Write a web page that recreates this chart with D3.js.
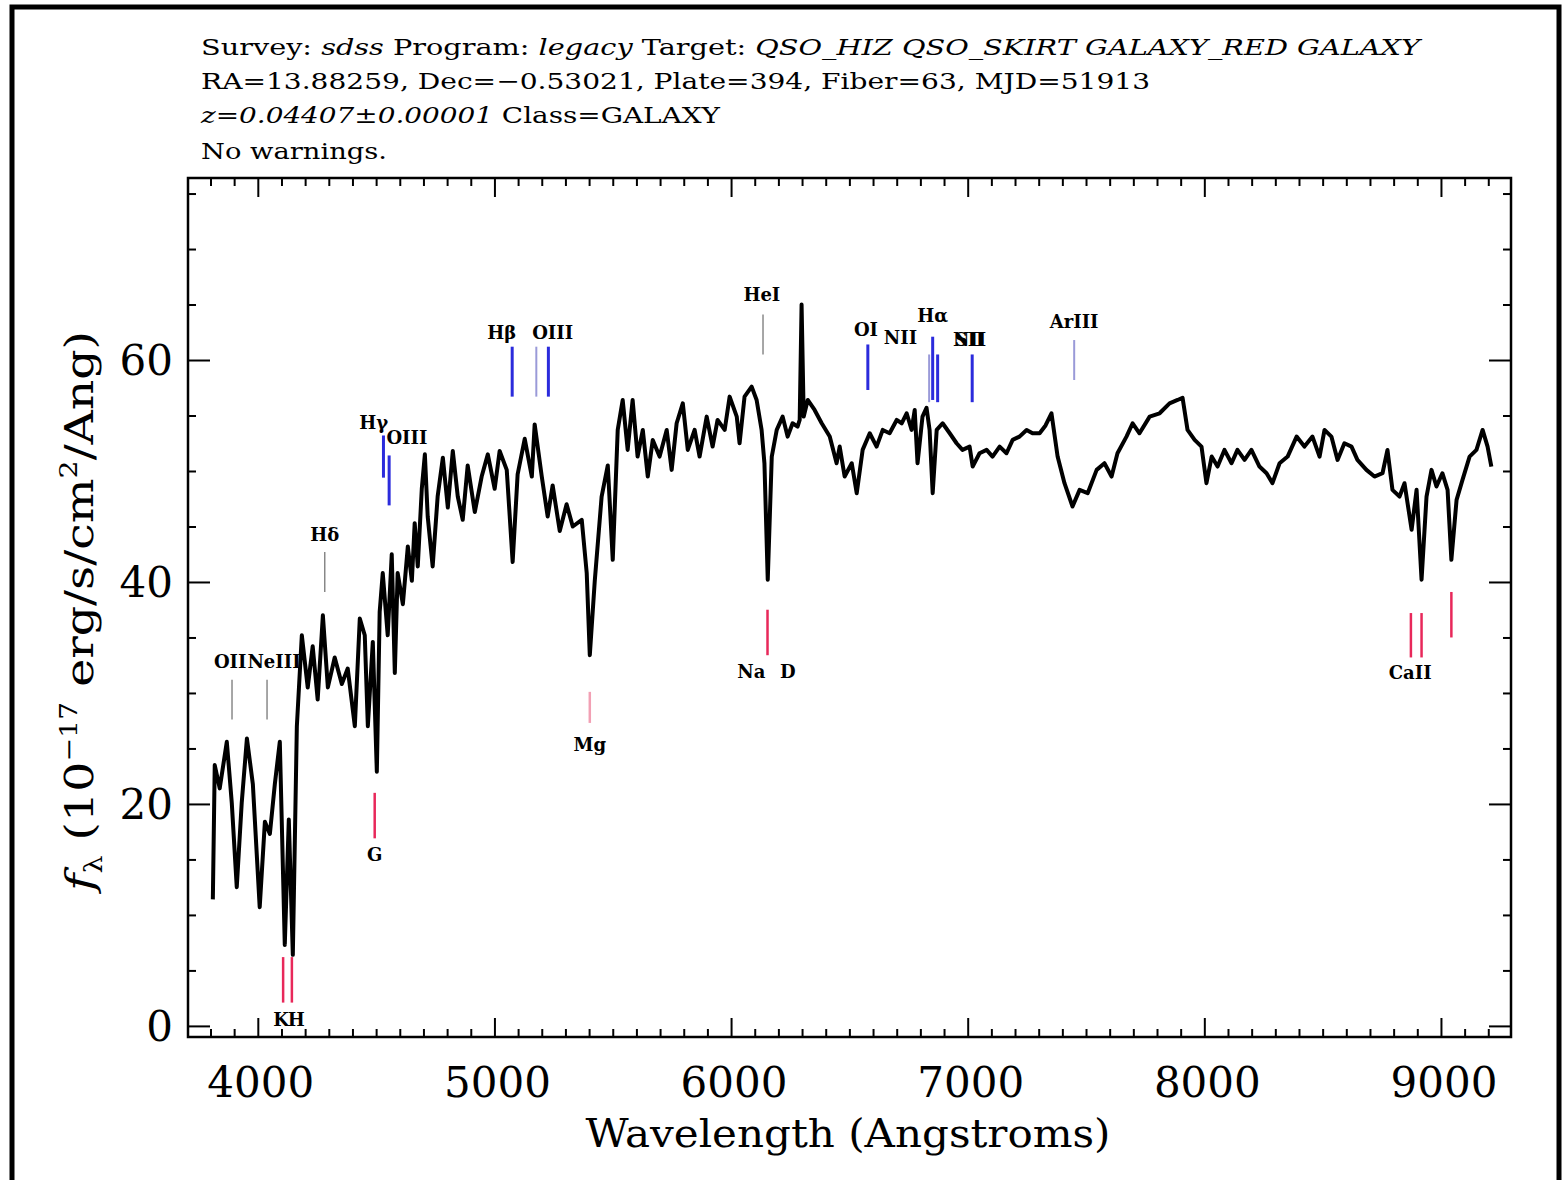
<!DOCTYPE html>
<html>
<head>
<meta charset="utf-8">
<script src="https://cdn.jsdelivr.net/npm/d3@7"></script>
<style>
  body { margin: 0; background: #fff; }
  svg text { font-family: "DejaVu Serif", "Liberation Serif", serif; fill: #000; }
</style>
</head>
<body>
<svg width="1564" height="1180"></svg>
<script>
var wave = [3810,3818,3839,3869,3890,3911,3932,3954,3979,4008,4030,4051,4072,4093,4114,4131,4148,4165,4186,4211,
  4232,4253,4275,4296,4325,4355,4380,4410,4431,4452,4465,4486,4503,4515,4528,4549,4566,4579,4591,4613,
  4634,4651,4663,4676,4693,4706,4718,4739,4760,4782,4803,4824,4845,4866,4887,4917,4946,4972,5001,5022,
  5052,5077,5098,5128,5158,5170,5200,5225,5246,5276,5305,5331,5369,5390,5403,5424,5453,5479,5500,5521,
  5542,5563,5584,5605,5627,5648,5669,5698,5728,5749,5770,5796,5817,5846,5867,5897,5922,5943,5973,5994,
  6024,6036,6057,6087,6108,6129,6141,6155,6172,6193,6218,6239,6260,6281,6290,6298,6307,6324,6353,6383,
  6417,6446,6459,6480,6510,6531,6556,6586,6615,6641,6670,6700,6721,6742,6763,6776,6788,6809,6826,6839,
  6852,6869,6894,6924,6953,6978,7008,7021,7050,7080,7105,7135,7164,7190,7219,7249,7274,7304,7329,7354,
  7380,7409,7443,7473,7507,7545,7578,7608,7633,7671,7697,7726,7769,7811,7853,7887,7908,7929,7959,7988,
  8009,8031,8056,8085,8115,8140,8170,8199,8233,8263,8288,8318,8352,8390,8423,8457,8487,8508,8537,8563,
  8592,8622,8647,8685,8719,8753,8774,8795,8825,8846,8876,8897,8918,8939,8960,8981,9006,9028,9044,9066,
  9091,9121,9150,9176,9197,9213];
var flux = [11.4,23.5,21.4,25.6,20.1,12.5,20.1,25.9,21.8,10.7,18.4,17.3,21.8,25.6,7.3,18.6,6.4,27.0,35.2,30.5,
  34.2,29.4,37.0,30.5,33.2,30.8,32.2,27.0,36.7,35.2,27.0,34.6,22.9,37.3,40.8,35.2,42.5,31.8,40.8,38.0,
  43.2,40.1,45.3,41.4,48.4,51.5,45.9,41.4,47.7,51.2,46.7,51.8,47.7,45.6,50.5,46.3,49.5,51.5,48.4,51.8,
  50.1,41.8,49.7,52.9,49.5,54.2,49.5,45.9,48.7,44.6,47.0,45.0,45.6,40.8,33.4,40.1,47.7,50.5,42.0,53.7,
  56.4,51.9,56.4,51.3,53.7,49.5,52.8,51.3,53.7,50.1,54.3,56.1,51.9,53.7,51.3,54.9,52.2,54.6,53.7,56.7,
  54.9,52.5,56.7,57.6,56.4,53.7,50.7,40.2,51.3,53.7,54.9,53.1,54.3,54.0,54.6,65.0,54.9,56.4,55.5,54.3,
  53.1,50.7,52.2,49.5,50.7,48.0,51.9,53.4,52.2,53.7,53.4,54.6,54.3,55.2,53.7,55.5,50.7,54.9,55.7,53.7,
  48.0,53.7,54.3,53.4,52.5,51.9,52.2,50.4,51.6,51.9,51.3,52.2,51.6,52.8,53.1,53.7,53.4,53.4,54.1,55.2,
  51.3,48.9,46.8,48.3,48.0,50.1,50.7,49.5,51.6,53.1,54.3,53.4,54.9,55.2,56.1,56.4,56.6,53.7,52.8,52.2,
  48.9,51.3,50.4,51.9,50.7,51.9,51.0,51.9,50.4,49.8,48.9,50.7,51.3,53.1,52.2,53.1,51.3,53.7,53.1,51.0,
  52.5,52.2,51.0,50.1,49.5,49.8,51.9,48.3,47.7,48.9,44.7,48.3,40.2,47.7,50.1,48.6,49.8,48.3,42.0,47.4,
  49.2,51.3,51.9,53.7,52.2,50.4];

// line markers: observed wavelength, flux extent, kind (em = emission, weak, abs = absorption, absw)
var markWave = [3891,4039,4283,4531,4555,5075,5177,5228,6135,6578,6837,6852,6873,7019,7450,
  4107,4144,4494,5403,6154,8873,8918,9044];
var markLo = [27.6,27.6,39.1,49.4,46.9,56.7,56.7,56.7,60.5,57.3,56.2,56.4,56.2,56.2,58.2,
  2.1,2.1,16.9,27.3,33.4,33.2,33.2,35.0];
var markHi = [31.2,31.2,42.7,53.2,51.4,61.2,61.2,61.2,64.1,61.4,60.5,62.1,60.5,60.5,61.8,
  6.2,6.2,21.0,30.1,37.5,37.2,37.2,39.1];
var markKind = ["weak","weak","weak","em","em","em","weakem","em","weak","em","weakem","em","em","em","weakem",
  "abs","abs","abs","absw","abs","abs","abs","abs"];

// line labels (anchor: which side of the wavelength the text sits)
var labelText = ["OII","NeIII","H\u03b4","H\u03b3","OIII","H\u03b2","OIII","HeI","OI","NII","H\u03b1","NII","SII","ArIII",
  "K","H","G","Mg","Na","D","CaII"];
var labelWave = [3952,3956,4283,4490,4630,5031,5246,6130,6570,6716,6852,7008,7008,7450,
  4098,4162,4494,5403,6086,6240,8870];
var labelFlux = [32.8,32.8,44.2,54.3,53.0,62.4,62.4,65.9,62.7,62.0,64.0,61.8,61.8,63.4,
  0.5,0.5,15.4,25.3,31.9,31.9,31.8];
var labelAnchor = ["end","start","middle","middle","middle","middle","middle","middle","middle","middle","middle",
  "middle","middle","middle","middle","middle","middle","middle","middle","middle","middle"];

var xMajor = [4000,5000,6000,7000,8000,9000];
var yMajor = [0,20,40,60];

var svg = d3.select("svg");

// outer frame of the picture
svg.append("rect")
    .attr("x", 12).attr("y", 7)
    .attr("width", 1547).attr("height", 1200)
    .attr("fill", "none").attr("stroke", "#000").attr("stroke-width", 5);

// header block
var header = svg.append("g").attr("font-size", 23);
var h1 = header.append("text").attr("x", 201).attr("y", 55)
    .attr("textLength", 1219).attr("lengthAdjust", "spacingAndGlyphs");
h1.append("tspan").text("Survey: ");
h1.append("tspan").attr("font-style", "italic").text("sdss");
h1.append("tspan").text(" Program: ");
h1.append("tspan").attr("font-style", "italic").text("legacy");
h1.append("tspan").text(" Target: ");
h1.append("tspan").attr("font-style", "italic").text("QSO_HIZ QSO_SKIRT GALAXY_RED GALAXY");

header.append("text").attr("x", 201).attr("y", 89)
    .attr("textLength", 949).attr("lengthAdjust", "spacingAndGlyphs")
    .text("RA=13.88259, Dec=\u22120.53021, Plate=394, Fiber=63, MJD=51913");

var h3 = header.append("text").attr("x", 201).attr("y", 123)
    .attr("textLength", 519).attr("lengthAdjust", "spacingAndGlyphs");
h3.append("tspan").attr("font-style", "italic").text("z=0.04407\u00b10.00001");
h3.append("tspan").text(" Class=GALAXY");

header.append("text").attr("x", 201).attr("y", 159)
    .attr("textLength", 186).attr("lengthAdjust", "spacingAndGlyphs")
    .text("No warnings.");

// plot area
var pLeft = 188, pRight = 1511, pTop = 178, pBottom = 1037;
var x = d3.scaleLinear().domain([3705, 9296]).range([pLeft, pRight]);
var y = d3.scaleLinear().domain([-1.0, 76.4]).range([pBottom, pTop]);

var xMinor = d3.range(3800, 9300, 100).filter(function(d) { return xMajor.indexOf(d) < 0; });
var yMinor = d3.range(5, 76, 5).filter(function(d) { return yMajor.indexOf(d) < 0; });

function tickAxis(axis, scale, values, size, tx, ty) {
    var g = svg.append("g")
        .attr("transform", "translate(" + tx + "," + ty + ")")
        .call(axis(scale).tickValues(values).tickSize(size).tickFormat(""));
    g.select(".domain").remove();
    g.selectAll("line").attr("stroke", "#000").attr("stroke-width", 2);
    return g;
}
// inward ticks on all four sides
tickAxis(d3.axisBottom, x, xMajor, -19, 0, pBottom);
tickAxis(d3.axisBottom, x, xMinor, -8, 0, pBottom);
tickAxis(d3.axisTop, x, xMajor, -19, 0, pTop);
tickAxis(d3.axisTop, x, xMinor, -8, 0, pTop);
tickAxis(d3.axisLeft, y, yMajor, -22, pLeft, 0);
tickAxis(d3.axisLeft, y, yMinor, -8, pLeft, 0);
tickAxis(d3.axisRight, y, yMajor, -22, pRight, 0);
tickAxis(d3.axisRight, y, yMinor, -8, pRight, 0);

svg.append("rect")
    .attr("x", pLeft).attr("y", pTop)
    .attr("width", pRight - pLeft).attr("height", pBottom - pTop)
    .attr("fill", "none").attr("stroke", "#000").attr("stroke-width", 2.5);

// tick labels
svg.append("g").selectAll("text")
    .data(xMajor)
    .enter().append("text")
    .attr("x", function(d) { return x(d) + 3; })
    .attr("y", 1097)
    .attr("text-anchor", "middle")
    .attr("font-size", 42)
    .text(function(d) { return d; });

svg.append("g").selectAll("text")
    .data(yMajor)
    .enter().append("text")
    .attr("x", 173)
    .attr("y", function(d) { return y(d) + 15; })
    .attr("text-anchor", "end")
    .attr("font-size", 42)
    .text(function(d) { return d; });

// axis titles
svg.append("text")
    .attr("x", 848).attr("y", 1147)
    .attr("text-anchor", "middle")
    .attr("font-size", 40)
    .attr("textLength", 525).attr("lengthAdjust", "spacingAndGlyphs")
    .text("Wavelength (Angstroms)");

var yl = svg.append("text")
    .attr("transform", "translate(93,611) rotate(-90)")
    .attr("text-anchor", "middle")
    .attr("font-size", 40)
    .attr("textLength", 560).attr("lengthAdjust", "spacingAndGlyphs");
yl.append("tspan").attr("font-style", "italic").text("f");
yl.append("tspan").attr("font-size", 24).attr("dy", 9).text("\u03bb");
yl.append("tspan").attr("dy", -9).text(" (10");
yl.append("tspan").attr("font-size", 24).attr("dy", -16).text("\u221217");
yl.append("tspan").attr("dy", 16).text(" erg/s/cm");
yl.append("tspan").attr("font-size", 24).attr("dy", -16).text("2");
yl.append("tspan").attr("dy", 16).text("/Ang)");

// line markers
var markColor = { em: "#2b2bdc", weakem: "#9a9ad8", weak: "#777", abs: "#e8285a", absw: "#f2a0b4" };
var markWidth = { em: 3, weakem: 2, weak: 1.3, abs: 2.5, absw: 2.5 };
svg.append("g").selectAll("line")
    .data(markWave)
    .enter().append("line")
    .attr("x1", function(d) { return x(d); })
    .attr("x2", function(d) { return x(d); })
    .attr("y1", function(d, i) { return y(markLo[i]); })
    .attr("y2", function(d, i) { return y(markHi[i]); })
    .attr("stroke", function(d, i) { return markColor[markKind[i]]; })
    .attr("stroke-width", function(d, i) { return markWidth[markKind[i]]; });

svg.append("g").selectAll("text")
    .data(labelText)
    .enter().append("text")
    .attr("x", function(d, i) { return x(labelWave[i]); })
    .attr("y", function(d, i) { return y(labelFlux[i]) + 6; })
    .attr("text-anchor", function(d, i) { return labelAnchor[i]; })
    .attr("font-size", 18)
    .attr("font-weight", "bold")
    .text(function(d) { return d; });

// the spectrum
var pts = wave.map(function(d, i) { return [d, flux[i]]; });
svg.append("path")
    .datum(pts)
    .attr("d", d3.line().x(function(d) { return x(d[0]); }).y(function(d) { return y(d[1]); }))
    .attr("fill", "none")
    .attr("stroke", "#000")
    .attr("stroke-width", 4)
    .attr("stroke-linejoin", "round");
</script>
</body>
</html>
